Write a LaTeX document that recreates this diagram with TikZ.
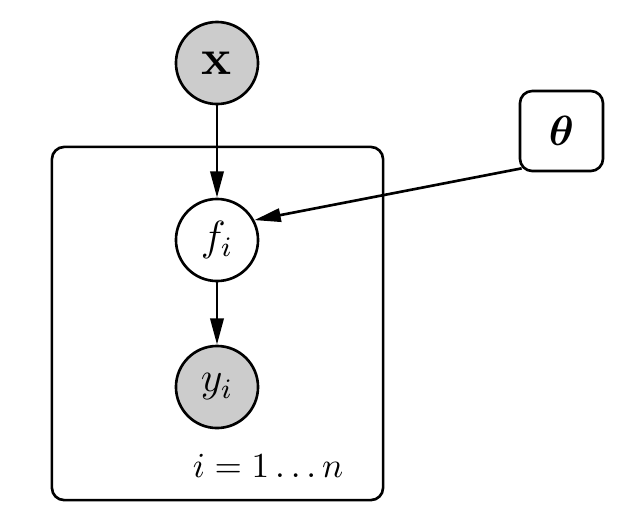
\documentclass[tikz,border=0pt]{standalone}
\usepackage{amsmath,bm}
\usetikzlibrary{arrows.meta}
\definecolor{obsgray}{HTML}{CCCCCC}
\begin{document}
\begin{tikzpicture}[x=0.01cm,y=-0.01cm,
  every path/.style={line width=0.75pt},
  var/.style={circle,draw,line width=0.75pt,minimum size=0.82cm,inner sep=0pt},
  obs/.style={var,fill=obsgray},
  par/.style={rectangle,draw,line width=0.75pt,rounded corners=3.5pt,minimum width=0.83cm,minimum height=0.80cm,inner sep=0pt},
  edge/.style={-{Triangle[length=7.5pt,width=3.8pt]},line width=0.75pt}]
\useasboundingbox (0,0) rectangle (617,526);
\node[obs] (x) at (217,63) {\Large$\mathbf{x}$};
\node[var] (f) at (217,240) {\large$f_i$};
\node[obs] (y) at (217,387) {\large$y_i$};
\node[par] (t) at (561.5,131) {\large$\bm{\theta}$};
\node[draw,line width=0.75pt,rounded corners=3.5pt,minimum width=3.31cm,minimum height=3.53cm,inner sep=0pt] (plate) at (217.5,323.5) {};
\node (lab) at (268,466) {$i=1\ldots n$};
\coordinate (tstart) at ([shift={(3,-4)}]t.south west);
\draw[edge] (x) -- (f);
\draw[edge] (f) -- (y);
\draw[edge] (tstart) -- (f.28);
\end{tikzpicture}
\end{document}
